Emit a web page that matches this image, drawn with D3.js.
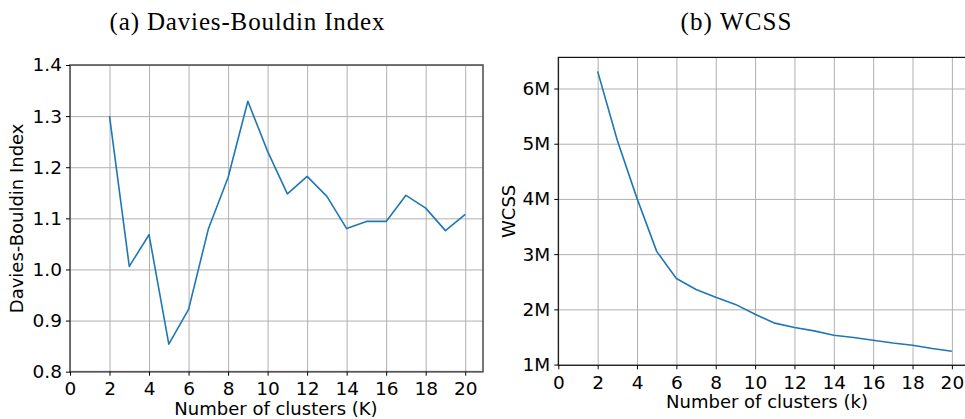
<!DOCTYPE html>
<html>
<head>
<meta charset="utf-8">
<script src="https://cdn.jsdelivr.net/npm/d3@7"></script>
<style>
  body { margin: 0; background: #fff; overflow: hidden; }
  svg { display: block; }
  .tick text { font-family: "DejaVu Sans", sans-serif; font-size: 18.5px; fill: #000; }
  .grid line { stroke: #b0b0b0; stroke-width: 1; }
  .grid path { display: none; }
  .axisText { font-family: "DejaVu Sans", sans-serif; font-size: 18px; fill: #000; }
  .title { font-family: "Liberation Serif", serif; font-size: 25px; fill: #000; }
</style>
</head>
<body>
<div id="chart"></div>
<script>
var svgWidth = 965;
var svgHeight = 419;

// cluster counts
var kValues = [2, 3, 4, 5, 6, 7, 8, 9, 10, 11, 12, 13, 14, 15, 16, 17, 18, 19, 20];
// Davies-Bouldin index per K
var dbIndex = [1.300, 1.006, 1.068, 0.854, 0.922, 1.079, 1.180, 1.329, 1.231, 1.148, 1.182, 1.143,
               1.080, 1.094, 1.094, 1.145, 1.120, 1.076, 1.108];
// WCSS per k
var wcss = [6.31e6, 5.06e6, 4.01e6, 3.05e6, 2.56e6, 2.36e6, 2.22e6, 2.09e6, 1.91e6, 1.75e6, 1.67e6,
            1.61e6, 1.53e6, 1.49e6, 1.44e6, 1.39e6, 1.35e6, 1.29e6, 1.24e6];

var xTicks = [0, 2, 4, 6, 8, 10, 12, 14, 16, 18, 20];
var dbTicks = [0.8, 0.9, 1.0, 1.1, 1.2, 1.3, 1.4];
var wcssTicks = [1e6, 2e6, 3e6, 4e6, 5e6, 6e6];

var svg = d3.select("#chart")
  .append("svg")
  .attr("width", svgWidth)
  .attr("height", svgHeight);

function drawPanel(opts) {
  var x = d3.scaleLinear().domain([0, 20.9]).range([opts.left, opts.right]);
  var y = d3.scaleLinear().domain(opts.yDomain).range([opts.bottom, opts.top]);
  var w = opts.right - opts.left;
  var h = opts.bottom - opts.top;

  var g = svg.append("g");

  // grid
  g.append("g")
    .attr("class", "grid")
    .attr("transform", `translate(0, ${opts.bottom})`)
    .call(d3.axisBottom(x).tickValues(xTicks).tickSize(-h).tickFormat(""));
  g.append("g")
    .attr("class", "grid")
    .attr("transform", `translate(${opts.left}, 0)`)
    .call(d3.axisLeft(y).tickValues(opts.yTicks).tickSize(-w).tickFormat(""));

  // line
  var line = d3.line()
    .x(function(d, i) { return x(kValues[i]); })
    .y(function(d) { return y(d); });
  g.append("path")
    .datum(opts.values)
    .attr("fill", "none")
    .attr("stroke", "#1f77b4")
    .attr("stroke-width", 1.6)
    .attr("stroke-linejoin", "round")
    .attr("d", line);

  // spines
  g.append("rect")
    .attr("x", opts.left)
    .attr("y", opts.top)
    .attr("width", w)
    .attr("height", h)
    .attr("fill", "none")
    .attr("stroke", opts.spine)
    .attr("stroke-width", opts.spineWidth);

  // axes with ticks and labels
  var xAxis = g.append("g")
    .attr("transform", `translate(0, ${opts.bottom})`)
    .call(d3.axisBottom(x).tickValues(xTicks).tickSize(4).tickPadding(3).tickFormat(d3.format("d")));
  var yAxis = g.append("g")
    .attr("transform", `translate(${opts.left}, 0)`)
    .call(d3.axisLeft(y).tickValues(opts.yTicks).tickSize(4).tickPadding(4).tickFormat(opts.yFormat));
  [xAxis, yAxis].forEach(function(a) {
    a.select(".domain").remove();
    a.selectAll(".tick line").attr("stroke", "#000").attr("stroke-width", 1);
  });
  xAxis.selectAll(".tick text").attr("dy", "0.88em");

  // axis labels
  g.append("text")
    .attr("class", "axisText")
    .attr("x", opts.xLabelX)
    .attr("y", opts.bottom + 43)
    .style("text-anchor", "middle")
    .text(opts.xLabel);
  g.append("text")
    .attr("class", "axisText")
    .attr("transform", `translate(${opts.yLabelX}, ${(opts.top + opts.bottom) / 2}) rotate(-90)`)
    .style("text-anchor", "middle")
    .text(opts.yLabel);

  // title
  g.append("text")
    .attr("class", "title")
    .attr("x", opts.titleX - opts.titleLen / 2)
    .attr("y", 30)
    .attr("textLength", opts.titleLen)
    .text(opts.title);
}

drawPanel({
  left: 70, right: 483, top: 65, bottom: 371.7,
  yDomain: [0.8, 1.4], yTicks: dbTicks, yFormat: d3.format(".1f"),
  values: dbIndex, spine: "#555", spineWidth: 1.6,
  xLabel: "Number of clusters (K)", xLabelX: 276,
  yLabel: "Davies-Bouldin Index", yLabelX: 23,
  title: "(a) Davies-Bouldin Index", titleX: 247, titleLen: 275
});

drawPanel({
  left: 558.3, right: 969.6, top: 57.4, bottom: 365.3,
  yDomain: [0.9865e6, 6.5635e6], yTicks: wcssTicks, yFormat: function(d) { return (d / 1e6) + "M"; },
  values: wcss, spine: "#111", spineWidth: 1.2,
  xLabel: "Number of clusters (k)", xLabelX: 767,
  yLabel: "WCSS", yLabelX: 515,
  title: "(b) WCSS", titleX: 736, titleLen: 111
});
</script>
</body>
</html>
